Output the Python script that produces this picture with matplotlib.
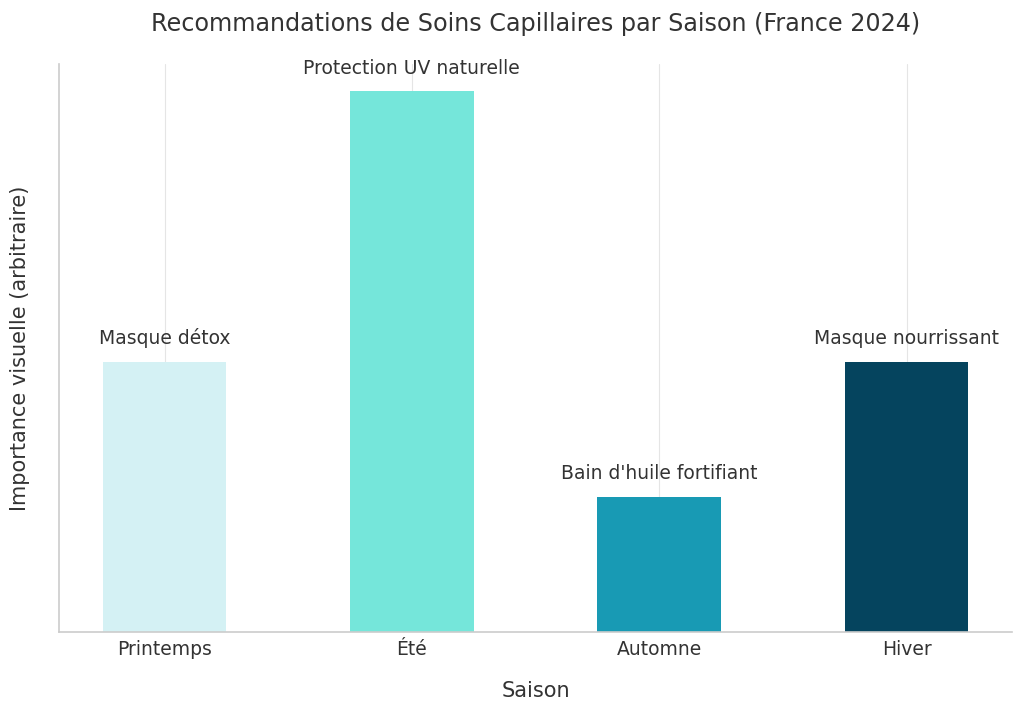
import matplotlib
matplotlib.use("Agg")
import matplotlib.pyplot as plt
import seaborn as sns

saisons = ["Printemps", "Été", "Automne", "Hiver"]
importance = [2, 4, 1, 2]
soins = ["Masque détox", "Protection UV naturelle", "Bain d'huile fortifiant", "Masque nourrissant"]
couleurs = ["#D4F1F4", "#75E6DA", "#189AB4", "#05445E"]

sns.set_style("whitegrid")
plt.rcParams['font.family'] = ['DejaVu Sans']

fig, ax = plt.subplots(figsize=(10.24, 7.15), dpi=100)
bars = ax.bar(saisons, importance, color=couleurs, width=0.5, linewidth=0, zorder=2)

for b, txt in zip(bars, soins):
    ax.text(b.get_x() + b.get_width() / 2, b.get_height() + 0.1, txt,
            ha="center", va="bottom", fontsize=13.5, color="#333333")

ax.set_title("Recommandations de Soins Capillaires par Saison (France 2024)",
             fontsize=17.2, color="#333333", pad=24)
ax.set_xlabel("Saison", fontsize=15, color="#333333", labelpad=16)
ax.set_ylabel("Importance visuelle (arbitraire)", fontsize=15, color="#333333", labelpad=21)
ax.set_yticks([])
ax.tick_params(axis="x", labelsize=13.5, colors="#333333", pad=2)
ax.grid(axis="y", visible=False)
ax.grid(axis="x", color="#e5e5e5", zorder=0)
for s in ["top", "right"]:
    ax.spines[s].set_visible(False)
for s in ["left", "bottom"]:
    ax.spines[s].set_color("#cccccc")
    ax.spines[s].set_linewidth(1.2)

plt.subplots_adjust(left=0.058, right=0.988, top=0.91, bottom=0.116)
plt.savefig("out.png", dpi=100)
